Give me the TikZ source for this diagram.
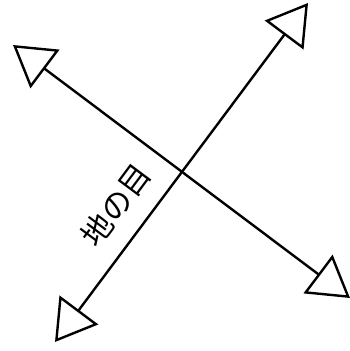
\documentclass[tikz,border=0pt]{standalone}
\usepackage{fontspec}
\newfontfamily\cjk{Noto Sans CJK JP}
\usetikzlibrary{arrows.meta}
\tikzset{
  grain/.style={line width=2.4pt,
    {Triangle[open,length=40pt,width=48pt]}-{Triangle[open,length=40pt,width=48pt]}},
  lbl/.style={font=\cjk\fontsize{31pt}{34pt}\selectfont, inner sep=0pt}
}
\begin{document}
\begin{tikzpicture}[x=1pt,y=1pt]
\useasboundingbox (0,0) rectangle (350,351);
\coordinate (a) at (13,306);
\coordinate (b) at (350,53);
\coordinate (c) at (55,9);
\coordinate (d) at (308,348);
\draw[grain] (a) -- (b);
\draw[grain] (c) -- (d);
\node[lbl, rotate=53.3] (t) at (116,146) {地の目};
\end{tikzpicture}
\end{document}
